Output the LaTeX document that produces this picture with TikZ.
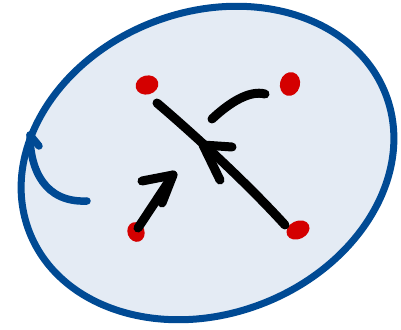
\documentclass[tikz,border=0pt]{standalone}
\usetikzlibrary{shapes.geometric}
\definecolor{rimblue}{HTML}{004A94}
\definecolor{paleblue}{HTML}{E4EBF4}
\definecolor{dotred}{HTML}{D40000}
\tikzset{
  reddot/.style={ellipse, fill=dotred, draw=none, inner sep=0pt},
  inkstroke/.style={line width=9pt, line cap=round, line join=round, black},
  bluestroke/.style={line width=7.5pt, line cap=round, line join=round, rimblue}
}
\begin{document}
\begin{tikzpicture}[x=1pt,y=1pt]
\useasboundingbox (0,0) rectangle (401,329);
\coordinate (c) at (207.5,166);
\draw[rimblue, line width=7pt, fill=paleblue, rotate around={21:(c)}] (c) ellipse [x radius=191, y radius=151];
% red dots
\node[reddot, minimum width=23pt, minimum height=19pt, rotate=15] (tl) at (147,244) {};
\node[reddot, minimum width=20pt, minimum height=24pt, rotate=-15] (tr) at (290,245) {};
\node[reddot, minimum width=17pt, minimum height=20pt, rotate=20] (bl) at (136,97) {};
\node[reddot, minimum width=24pt, minimum height=18pt, rotate=25] (br) at (298,99) {};
% long line with arrowhead
\coordinate (ls) at (157,226);
\coordinate (le) at (285,104);
\draw[inkstroke] (ls) .. controls (190,198) and (245,148) .. (le);
\coordinate (lt) at (203,184);
\coordinate (lb1) at (232,182);
\coordinate (lb2) at (220,149);
\draw[inkstroke] (lb1) -- (lt) -- (lb2);
% bottom-left arrow
\coordinate (as) at (138,101);
\coordinate (at) at (173,154);
\coordinate (ab1) at (142,148);
\coordinate (ab2) at (162,126);
\draw[inkstroke] (as) -- (at);
\draw[inkstroke] (ab1) -- (at) -- (ab2);
% top-right curve
\coordinate (cs) at (212,210);
\coordinate (ce) at (265,235);
\draw[inkstroke] (cs) .. controls (230,227) and (250,239) .. (ce);
% blue arc arrow
\coordinate (bt) at (87,128);
\coordinate (bh) at (30,194);
\coordinate (bb) at (39,183);
\draw[bluestroke] (bt) .. controls (45,126) and (30,159) .. (bh);
\draw[bluestroke] (bh) -- (bb);
\end{tikzpicture}
\end{document}
